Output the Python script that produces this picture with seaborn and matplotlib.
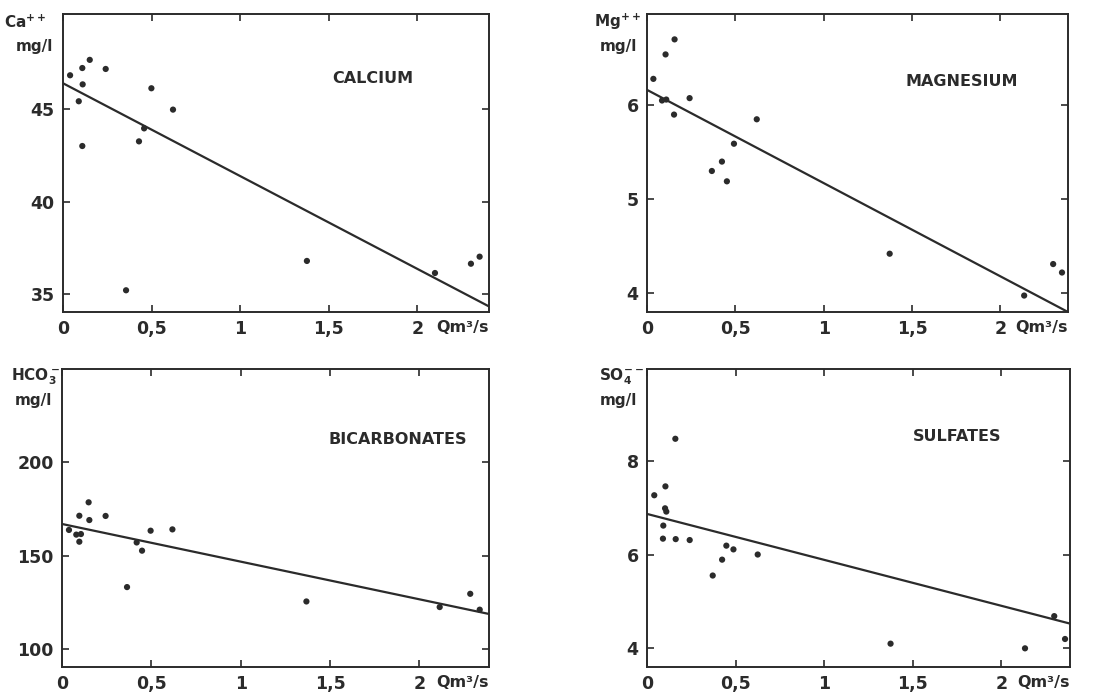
import matplotlib
matplotlib.use("Agg")
import matplotlib.pyplot as plt
import matplotlib.transforms as mtransforms
import pandas as pd
import seaborn as sns

# ---------------- data ----------------
Q_TICKS = [0, 0.5, 1, 1.5, 2]
Q_TICK_LABELS = ["0", "0,5", "1", "1,5", "2"]
Q_LABEL = "Qm³/s"

CA_Q = [0.040, 0.109, 0.111, 0.089, 0.109, 0.151, 0.241, 0.499, 0.621, 0.458, 0.429, 0.356, 1.377, 2.100, 2.303, 2.352]
CA = [46.80, 47.19, 46.31, 45.40, 42.99, 47.63, 47.14, 46.10, 44.95, 43.94, 43.24, 35.22, 36.80, 36.15, 36.65, 37.03]
CA_FIT_Q = [0.0, 2.405]
CA_FIT = [46.37, 34.35]

MG_Q = [0.036, 0.105, 0.156, 0.085, 0.109, 0.153, 0.241, 0.621, 0.492, 0.367, 0.424, 0.452, 1.373, 2.134, 2.298, 2.348]
MG = [6.28, 6.54, 6.70, 6.05, 6.06, 5.90, 6.075, 5.85, 5.59, 5.30, 5.40, 5.19, 4.42, 3.975, 4.31, 4.22]
MG_FIT_Q = [0.0, 2.382]
MG_FIT = [6.163, 3.80]

HCO3_Q = [0.039, 0.097, 0.149, 0.153, 0.244, 0.080, 0.106, 0.097, 0.496, 0.618, 0.418, 0.448, 0.364, 1.368, 2.114, 2.285, 2.338]
HCO3 = [163.8, 171.4, 178.6, 169.1, 171.3, 161.3, 161.6, 157.5, 163.4, 164.1, 157.1, 152.7, 133.2, 125.5, 122.5, 129.6, 121.1]
HCO3_FIT_Q = [0.0, 2.39]
HCO3_FIT = [167.0, 118.8]

SO4_Q = [0.041, 0.104, 0.160, 0.102, 0.109, 0.092, 0.090, 0.162, 0.241, 0.448, 0.488, 0.625, 0.424, 0.371, 1.375, 2.134, 2.299, 2.360]
SO4 = [7.27, 7.46, 8.48, 6.99, 6.92, 6.62, 6.34, 6.33, 6.31, 6.19, 6.11, 6.00, 5.89, 5.55, 4.09, 3.99, 4.68, 4.19]
SO4_FIT_Q = [0.0, 2.388]
SO4_FIT = [6.87, 4.52]

ION_LABELS = [r"Ca$^{++}$", r"Mg$^{++}$", r"HCO$_3^-$", r"SO$_4^{--}$"]
UNIT_LABEL = "mg/l"
TITLES = ["CALCIUM", "MAGNESIUM", "BICARBONATES", "SULFATES"]
Y_TICKS = [[35, 40, 45], [4, 5, 6], [100, 150, 200], [4, 6, 8]]

# ---------------- layout / style ----------------
W, H = 1103, 693
INK = "#2b2b2b"
sns.set_theme(style="white")
plt.rcParams["font.family"] = ["DejaVu Sans"]
plt.rcParams["mathtext.default"] = "regular"

fig = plt.figure(figsize=(W / 100, H / 100), dpi=100)
fig.patch.set_facecolor("white")

# axes rectangles in pixels: left, top, right, bottom
rects = [(63, 14, 489, 312), (647, 14, 1068, 312), (62, 369, 489, 667), (647, 369, 1070, 667)]
xlims = [(0, 2.405), (0, 2.382), (0, 2.39), (0, 2.388)]
ylims = [(34.05, 50.1), (3.80, 6.97), (90.4, 250), (3.59, 9.975)]
title_pos = [(0.728, 0.785), (0.748, 0.775), (0.787, 0.762), (0.733, 0.772)]
label_dx = [-38, -29, -27, -26]

scatter_sets = [(CA_Q, CA), (MG_Q, MG), (HCO3_Q, HCO3), (SO4_Q, SO4)]
fit_sets = [(CA_FIT_Q, CA_FIT), (MG_FIT_Q, MG_FIT), (HCO3_FIT_Q, HCO3_FIT), (SO4_FIT_Q, SO4_FIT)]

for i in range(4):
    l, t, r, b = rects[i]
    ax = fig.add_axes([l / W, 1 - b / H, (r - l) / W, (b - t) / H])
    ax.set_facecolor("white")
    qx, vy = scatter_sets[i]
    fq, fv = fit_sets[i]
    df = pd.DataFrame({"Q": qx, "v": vy})
    dfit = pd.DataFrame({"Q": fq, "v": fv})
    sns.lineplot(data=dfit, x="Q", y="v", ax=ax, color=INK, linewidth=1.6, zorder=2)
    sns.scatterplot(data=df, x="Q", y="v", ax=ax, color=INK, s=20, edgecolor="none", zorder=3)
    ax.set_xlim(*xlims[i])
    ax.set_ylim(*ylims[i])
    ax.set_xlabel("")
    ax.set_ylabel("")
    ax.set_xticks(Q_TICKS)
    ax.set_xticklabels(Q_TICK_LABELS)
    ax.set_yticks(Y_TICKS[i])
    ax.set_yticklabels([str(v) for v in Y_TICKS[i]])
    ax.tick_params(direction="in", length=5, width=1.2, color=INK,
                   top=True, right=True, bottom=True, left=True,
                   labelsize=12.5, labelcolor=INK, pad=6)
    for lab in ax.get_xticklabels() + ax.get_yticklabels():
        lab.set_fontweight("bold")
    for sp in ax.spines.values():
        sp.set_visible(True)
        sp.set_color(INK)
        sp.set_linewidth(1.4)
    ax.grid(False)
    # title inside
    ax.text(title_pos[i][0], title_pos[i][1], TITLES[i], transform=ax.transAxes,
            ha="center", va="center", fontsize=11.5, fontweight="bold", color=INK)
    # y unit label above left
    off = mtransforms.ScaledTranslation(label_dx[i] / 100, 0, fig.dpi_scale_trans)
    off2 = mtransforms.ScaledTranslation(-29 / 100, 0, fig.dpi_scale_trans)
    ax.text(0, 1 - 8 / 298, ION_LABELS[i], transform=ax.transAxes + off,
            ha="center", va="center", fontsize=11, fontweight="bold", color=INK)
    ax.text(0, 1 - 32 / 298, UNIT_LABEL, transform=ax.transAxes + off2,
            ha="center", va="center", fontsize=11, fontweight="bold", color=INK)
    # x unit label at the right end of tick-label row
    ax.text(1.0, -0.027, Q_LABEL, transform=ax.transAxes, ha="right", va="top",
            fontsize=11.5, fontweight="bold", color=INK)

fig.savefig("out.png", dpi=100, facecolor="white")
